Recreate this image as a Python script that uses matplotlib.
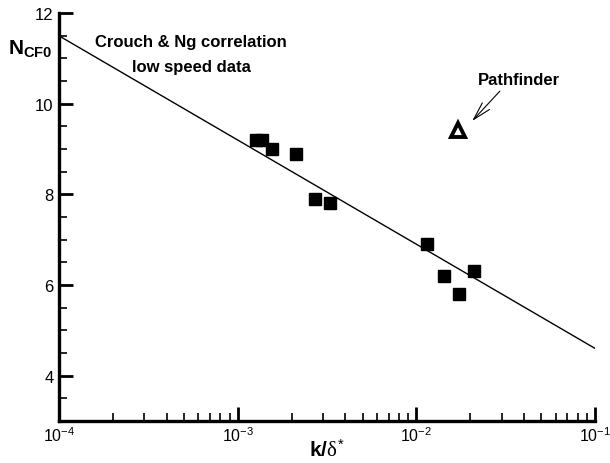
import numpy as np
import matplotlib
matplotlib.use("Agg")
import matplotlib.pyplot as plt
from matplotlib.ticker import LogLocator, MultipleLocator, FuncFormatter

plt.rcParams['font.family'] = ['Liberation Sans', 'DejaVu Sans']
plt.rcParams['mathtext.fontset'] = 'custom'
plt.rcParams['mathtext.rm'] = 'Liberation Sans'
plt.rcParams['mathtext.bf'] = 'Liberation Sans:bold'
plt.rcParams['mathtext.it'] = 'Liberation Serif'
plt.rcParams['mathtext.sf'] = 'Liberation Sans'

# low speed data (Crouch & Ng)
k_delta = [1.26e-3, 1.36e-3, 1.55e-3, 2.13e-3, 2.71e-3, 3.29e-3,
           1.15e-2, 1.43e-2, 1.73e-2, 2.10e-2]
n_cf0 = [9.2, 9.2, 9.0, 8.9, 7.9, 7.8, 6.9, 6.2, 5.8, 6.3]

# Pathfinder point
pf_k = 0.017
pf_n = 9.43

# correlation line
corr_k = [1e-4, 1e-1]
corr_n = [11.5, 4.6]

fig = plt.figure(figsize=(6.1, 4.64), dpi=100)
ax = fig.add_axes([0.0967, 0.0905, 0.879, 0.879])

ax.plot(corr_k, corr_n, color='black', lw=1.0)
ax.plot(k_delta, n_cf0, 's', color='black', ms=8, mec='black')
ax.plot([pf_k], [pf_n], '^', mfc='white', mec='black', ms=9.5, mew=2.8)

ax.annotate('', xy=(0.0205, 9.62), xytext=(0.0293, 10.28),
            arrowprops=dict(arrowstyle='->, head_length=1.3, head_width=0.35',
                            color='black', lw=0.8, shrinkA=0, shrinkB=0))
ax.text(0.0375, 10.54, 'Pathfinder', fontsize=12, fontweight='bold',
        ha='center', va='center')

ax.text(5.48e-4, 11.38, 'Crouch & Ng correlation', fontsize=12,
        fontweight='bold', ha='center', va='center')
ax.text(5.48e-4, 10.83, 'low speed data', fontsize=12,
        fontweight='bold', ha='center', va='center')

ax.set_xscale('log')
ax.set_xlim(1e-4, 1e-1)
ax.set_ylim(3, 12)

ax.xaxis.set_major_locator(LogLocator(base=10, numticks=10))
ax.xaxis.set_minor_locator(LogLocator(base=10, subs=np.arange(2, 10), numticks=20))
ax.xaxis.set_major_formatter(FuncFormatter(lambda v, p: r'$\mathrm{10^{%d}}$' % round(np.log10(v))))
ax.yaxis.set_major_locator(MultipleLocator(2))
ax.yaxis.set_minor_locator(MultipleLocator(0.5))
ax.set_yticks([4, 6, 8, 10, 12])

ax.tick_params(which='major', direction='in', length=10, width=2, labelsize=12, pad=4)
ax.tick_params(which='minor', direction='in', length=6, width=1.2)
ax.tick_params(axis='x', which='major', labelsize=11.5, pad=3)

for s in ['top', 'right']:
    ax.spines[s].set_visible(False)
for s in ['left', 'bottom']:
    ax.spines[s].set_linewidth(2.4)

ax.set_xlabel(r'$\mathbf{k/}\delta^{*}$', fontsize=15, labelpad=-4)
ax.text(-0.012, 0.915, r'$\mathbf{N}_{\mathbf{CF0}}$', transform=ax.transAxes,
        fontsize=15, ha='right', va='center')

fig.savefig('out.png', dpi=100)
